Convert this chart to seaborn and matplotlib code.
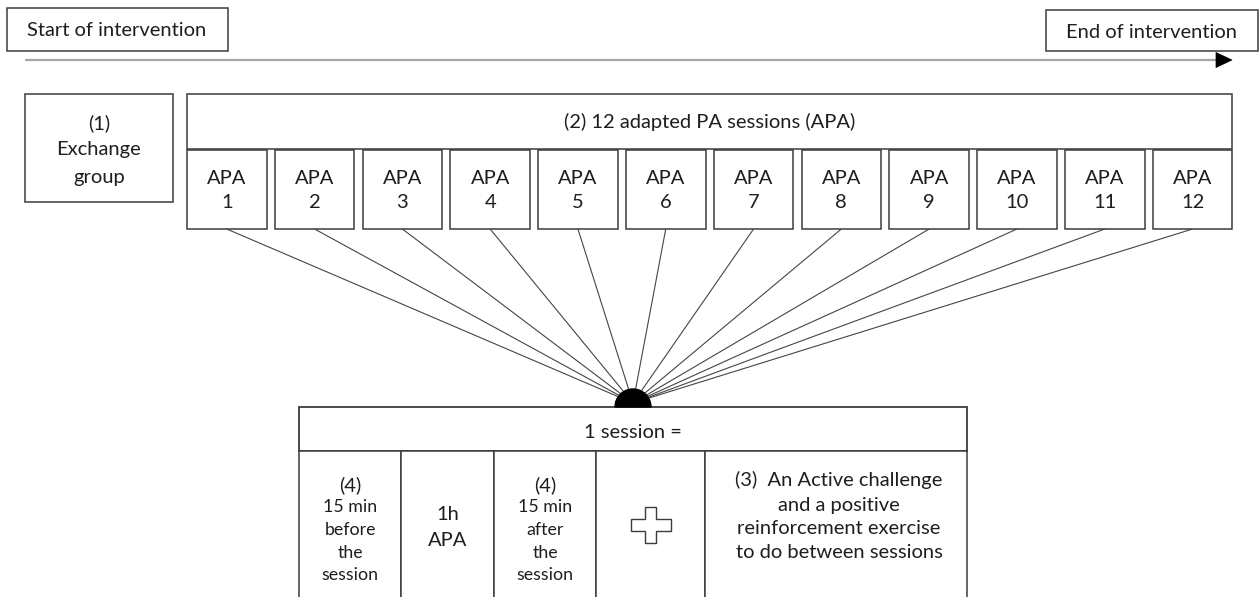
import numpy as np
import pandas as pd
import matplotlib
matplotlib.use('Agg')
import matplotlib.pyplot as plt
from matplotlib.patches import Rectangle, Wedge, Polygon
import seaborn as sns

sns.set_theme(style="white")
plt.rcParams['font.family'] = ['Lato', 'DejaVu Sans']

# --- content of the diagram ---
timeline_labels = ['Start of intervention', 'End of intervention']
group_lines = ['(1)', 'Exchange', 'group']
apa_header = '(2) 12 adapted PA sessions (APA)'
apa_numbers = list(range(1, 13))
session_header = '1 session ='
before_lines = ['15 min', 'before', 'the', 'session']
after_lines = ['15 min', 'after', 'the', 'session']
apa_hour_lines = ['1h', 'APA']
challenge_lines = ['(3)  An Active challenge', 'and a positive',
                   'reinforcement exercise', 'to do between sessions']

# --- layout (pixels, y pointing down) ---
W, H = 1260, 597
EDGE = '#3c3c3c'
TXT = '#1e1e1e'
FS = 14.5
FS_SMALL = 12.8

fig = plt.figure(figsize=(W / 100, H / 100), dpi=100)
ax = fig.add_axes([0, 0, 1, 1])
ax.set_axis_off()


def box(x0, y0, x1, y1, lw=1.1):
    ax.add_patch(Rectangle((x0, y0), x1 - x0, y1 - y0, facecolor='white',
                           edgecolor=EDGE, lw=lw, zorder=3))


def lines(x, ys, texts, fs=FS):
    for y, t in zip(ys, texts):
        ax.text(x, y, t, ha='center', va='center', fontsize=fs, color=TXT, zorder=5)


# timeline
box(7, 8, 228, 51)
lines(117, [31], [timeline_labels[0]])
box(1046, 10, 1258, 51)
lines(1152, [32], [timeline_labels[1]])
ax.plot([26, 1217], [60, 60], color='#a6a6a6', lw=1.6, zorder=2)
ax.add_patch(Polygon([[1216, 52.5], [1232, 60], [1216, 67.5]], closed=True,
                     facecolor='black', edgecolor='black', lw=0.5, zorder=3))

# exchange group
box(25, 94, 173, 202)
lines(99, [123, 150, 177], group_lines)

# APA header + session boxes
box(187, 94, 1232, 149)
lines(710, [122], [apa_header])
step, bw = 87.8, 79.5
apa_x0 = [187 + i * step for i in range(len(apa_numbers))]
for x0, n in zip(apa_x0, apa_numbers):
    box(x0, 150, x0 + bw, 229)
    lines(x0 + bw / 2, [178, 203], ['APA', str(n)])

# fan of lines into the session
hub = (633, 403)
fan = pd.DataFrame({
    'x': [v for x0 in apa_x0 for v in (x0 + bw / 2, hub[0])],
    'y': [v for _ in apa_x0 for v in (229, hub[1])],
    'unit': [n for n in apa_numbers for _ in range(2)],
})
sns.lineplot(data=fan, x='x', y='y', units='unit', estimator=None, sort=False,
             color='#454545', lw=0.8, ax=ax, zorder=1, legend=False)
ax.add_patch(Wedge((633, 407), 18, 180, 360, facecolor='black',
                   edgecolor='black', zorder=4))

# one session breakdown
box(299, 407, 967, 451, lw=1.3)
lines(633, [432], [session_header])
cols = [299, 401, 494, 596, 705, 967]
for a, b in zip(cols[:-1], cols[1:]):
    box(a, 451, b, 620)

c0 = (cols[0] + cols[1]) / 2
lines(c0, [485], ['(4)'])
lines(c0, [507, 530, 553, 575], before_lines, fs=FS_SMALL)
c1 = (cols[1] + cols[2]) / 2
lines(c1, [514, 541], apa_hour_lines)
c2 = (cols[2] + cols[3]) / 2
lines(c2, [485], ['(4)'])
lines(c2, [507, 530, 553, 575], after_lines, fs=FS_SMALL)

# plus sign outline
px, py, ax_, ay_, t = (cols[3] + cols[4]) / 2, 525, 20, 18, 5.7
plus = [[px - t, py - ay_], [px + t, py - ay_], [px + t, py - t], [px + ax_, py - t],
        [px + ax_, py + t], [px + t, py + t], [px + t, py + ay_], [px - t, py + ay_],
        [px - t, py + t], [px - ax_, py + t], [px - ax_, py - t], [px - t, py - t]]
ax.add_patch(Polygon(plus, closed=True, facecolor='white', edgecolor=EDGE,
                     lw=1.0, zorder=4))

c4 = (cols[4] + cols[5]) / 2
lines(c4 + 3, [480, 505, 529, 552], challenge_lines)

ax.set_xlim(0, W)
ax.set_ylim(H, 0)
fig.savefig('out.png', dpi=100)
plt.close(fig)
